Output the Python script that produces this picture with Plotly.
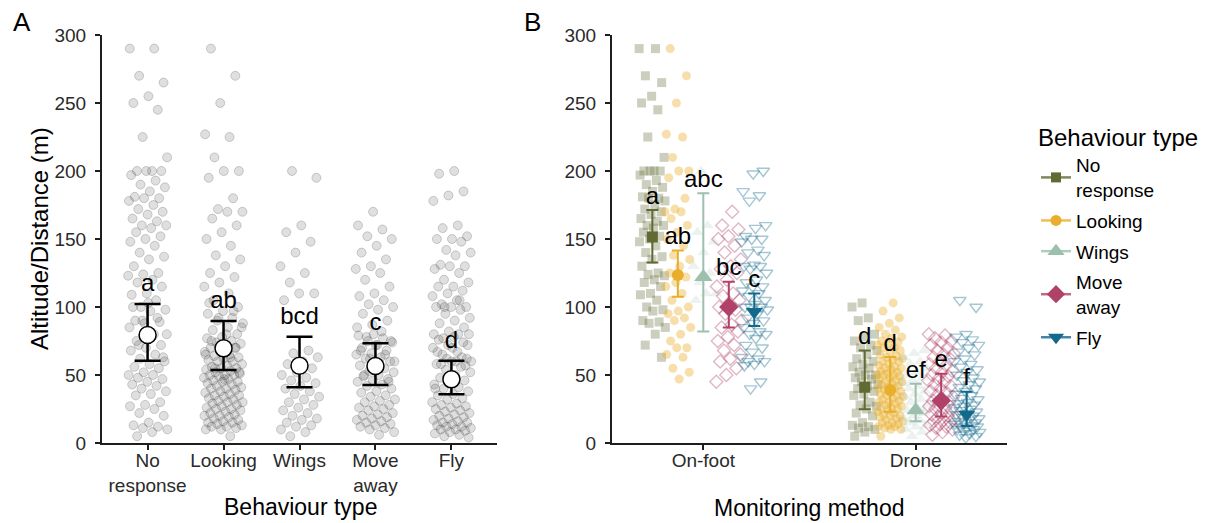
import plotly.graph_objects as go

# ---------------- data ----------------
behaviours = ["No response", "Looking", "Wings", "Move away", "Fly"]
behaviour_ticks = ["No<br>response", "Looking", "Wings", "Move<br>away", "Fly"]
legend_labels = ["No<br>response", "Looking", "Wings", "Move<br>away", "Fly"]
methods = ["On-foot", "Drone"]

onfoot_no_response = [290, 290, 270, 265, 255, 250, 245, 225, 210, 200, 200, 200, 200, 197, 193, 190,
                      188, 185, 181, 180, 180, 178, 175, 172, 170, 168, 165, 163, 160, 160, 158, 155,
                      152, 150, 148, 145, 140, 137, 135, 130, 125, 124, 123, 120, 118, 115, 110, 109,
                      105, 100, 98, 97, 90, 89, 88, 85, 80, 72, 63]
drone_no_response = [103, 100, 92, 90, 80, 78, 75, 72, 70, 68, 65, 62, 60, 58, 56, 55, 52, 50, 50, 48,
                     47, 45, 43, 42, 40, 38, 36, 35, 30, 28, 27, 25, 22, 20, 15, 13, 12, 11, 10, 8, 5]
onfoot_looking = [290, 270, 250, 227, 225, 210, 200, 200, 195, 180, 172, 170, 170, 165, 160, 155, 150,
                  145, 138, 135, 130, 125, 122, 118, 115, 110, 105, 100, 97, 95, 92, 90, 85, 80, 75,
                  70, 70, 65, 63, 55, 52, 47]
drone_looking = [103, 97, 92, 88, 85, 83, 80, 78, 77, 75, 74, 73, 72, 70, 70, 68, 67, 65, 64, 63, 62,
                 61, 60, 60, 58, 57, 56, 55, 55, 54, 53, 52, 51, 50, 50, 50, 49, 48, 47, 46, 45, 45,
                 44, 43, 42, 41, 40, 40, 39, 38, 37, 36, 35, 35, 34, 33, 32, 31, 30, 30, 29, 28, 27,
                 26, 25, 25, 24, 23, 22, 21, 20, 20, 19, 18, 17, 16, 15, 15, 14, 13, 12, 12, 11, 10,
                 10, 5]
onfoot_wings = [200, 195, 160, 155, 148, 140, 130, 125, 118, 110, 110, 105]
drone_wings = [68, 66, 63, 60, 58, 55, 52, 50, 48, 46, 44, 42, 40, 38, 36, 34, 32, 30, 28, 26, 24, 22,
               20, 18, 17, 15, 13, 12, 10, 8, 5]
onfoot_move_away = [170, 160, 157, 152, 150, 145, 140, 135, 130, 128, 125, 120, 115, 110, 108, 105, 102,
                    100, 98, 95, 90, 87, 85, 82, 78, 75, 72, 68, 65, 62, 60, 55, 50, 45]
drone_move_away = [80, 79, 77, 75, 74, 72, 70, 68, 66, 65, 63, 62, 60, 58, 57, 55, 53, 52, 50, 49, 47,
                   46, 45, 43, 42, 40, 38, 37, 35, 34, 32, 31, 30, 28, 27, 26, 25, 24, 22, 21, 20, 19,
                   18, 17, 16, 15, 14, 13, 12, 11, 10, 8, 6]
onfoot_fly = [200, 198, 185, 182, 178, 160, 158, 152, 150, 150, 148, 142, 140, 138, 131, 130, 130, 128,
              125, 120, 118, 115, 115, 112, 110, 108, 105, 102, 100, 100, 100, 98, 95, 92, 90, 88, 85,
              82, 80, 80, 77, 72, 70, 67, 63, 62, 60, 60, 58, 57, 45, 40]
drone_fly = [105, 100, 80, 78, 76, 74, 72, 70, 67, 65, 62, 60, 58, 56, 54, 52, 50, 48, 46, 45, 43, 41,
             40, 38, 36, 35, 33, 32, 30, 29, 28, 27, 26, 25, 24, 23, 22, 21, 20, 19, 18, 17, 16, 15,
             15, 14, 13, 12, 12, 11, 10, 10, 9, 8, 7, 6, 5, 4]

onfoot_points = [onfoot_no_response, onfoot_looking, onfoot_wings, onfoot_move_away, onfoot_fly]
drone_points = [drone_no_response, drone_looking, drone_wings, drone_move_away, drone_fly]

# Panel A model estimates
a_mean = [79.4, 69.6, 56.8, 56.6, 46.8]
a_lower = [60.5, 53.7, 41.0, 42.6, 35.8]
a_upper = [102.2, 89.7, 78.2, 73.3, 60.5]
a_letters = ["a", "ab", "bcd", "c", "d"]

# Panel B model estimates
onfoot_mean = [151.5, 123.5, 122.0, 100.0, 96.5]
onfoot_lower = [132.7, 107.6, 82.0, 85.0, 86.0]
onfoot_upper = [171.3, 141.6, 183.6, 118.6, 110.0]
onfoot_letters = ["a", "ab", "abc", "bc", "c"]
drone_mean = [41.0, 39.0, 24.0, 31.0, 21.0]
drone_lower = [24.8, 23.0, 16.0, 19.5, 12.5]
drone_upper = [68.0, 63.3, 43.5, 51.0, 37.7]
drone_letters = ["d", "d", "ef", "e", "f"]

# ---------------- style ----------------
colors = ["#5f6b32", "#e8ae2c", "#9dbfae", "#b0426a", "#13698c"]
rgb = [(95, 107, 50), (232, 174, 44), (157, 191, 174), (176, 66, 106), (19, 105, 140)]
point_symbols = ["square", "circle", "triangle-up", "diamond-open", "triangle-down-open"]
point_alpha = [0.32, 0.4, 0.2, 0.38, 0.38]
point_sizes = [9, 9, 11, 10, 11]
mean_symbols = ["square", "circle", "triangle-up", "diamond", "triangle-down"]
mean_sizes = [11, 12, 16, 15, 15]
dodge = [-0.24, -0.12, 0.0, 0.12, 0.24]
FONT = "Arial, Liberation Sans, sans-serif"
INK = "#1e1e1e"


def jitter(n, width, phase):
    return [(((i * 0.6180339887 + phase) % 1.0) * 2 - 1) * width for i in range(n)]


fig = go.Figure()

# ---------- Panel A ----------
for k, name in enumerate(behaviours):
    vals = onfoot_points[k] + drone_points[k]
    xs = [k + 1 + j for j in jitter(len(vals), 0.26, 0.13 * k + 0.05)]
    fig.add_trace(go.Scatter(
        x=xs, y=vals, mode="markers", xaxis="x", yaxis="y", showlegend=False,
        marker=dict(symbol="circle", size=9, color="rgba(55,55,55,0.16)",
                    line=dict(color="rgba(55,55,55,0.22)", width=1)),
        hoverinfo="skip"))

fig.add_trace(go.Scatter(
    x=[k + 1 for k in range(5)], y=a_mean, mode="markers", xaxis="x", yaxis="y", showlegend=False,
    marker=dict(symbol="circle", size=17, color="white", line=dict(color="black", width=1.5)),
    error_y=dict(type="data", symmetric=False,
                 array=[u - m for u, m in zip(a_upper, a_mean)],
                 arrayminus=[m - l for m, l in zip(a_mean, a_lower)],
                 color="black", thickness=2.5, width=13)))

fig.add_trace(go.Scatter(
    x=[k + 1 for k in range(5)], y=[u + 14 for u in a_upper], mode="text", text=a_letters,
    textposition="middle center", xaxis="x", yaxis="y", showlegend=False,
    textfont=dict(family=FONT, size=24, color="black")))

# ---------- Panel B points ----------
for m, pts in enumerate([onfoot_points, drone_points]):
    for k in range(5):
        vals = pts[k]
        xs = [m + 1 + dodge[k] + j for j in jitter(len(vals), 0.062, 0.21 * k + 0.4 * m)]
        r, g, b = rgb[k]
        col = f"rgba({r},{g},{b},{point_alpha[k]})"
        open_sym = point_symbols[k].endswith("open")
        fig.add_trace(go.Scatter(
            x=xs, y=vals, mode="markers", xaxis="x2", yaxis="y2", showlegend=False,
            marker=dict(symbol=point_symbols[k], size=point_sizes[k], color=col,
                        line=dict(color=col, width=1.4 if open_sym else 0)),
            hoverinfo="skip"))

# ---------- Panel B means ----------
for m, (means, lows, ups, lets) in enumerate([(onfoot_mean, onfoot_lower, onfoot_upper, onfoot_letters),
                                              (drone_mean, drone_lower, drone_upper, drone_letters)]):
    for k in range(5):
        x0 = m + 1 + dodge[k]
        fig.add_trace(go.Scatter(
            x=[x0], y=[means[k]], mode="markers", xaxis="x2", yaxis="y2", showlegend=False,
            marker=dict(symbol=mean_symbols[k], size=mean_sizes[k], color=colors[k],
                        line=dict(width=0)),
            error_y=dict(type="data", symmetric=False, array=[ups[k] - means[k]],
                         arrayminus=[means[k] - lows[k]], color=colors[k], thickness=2, width=6)))
    fig.add_trace(go.Scatter(
        x=[m + 1 + d for d in dodge], y=[u + 9 for u in ups], mode="text", text=lets,
        textposition="middle center", xaxis="x2", yaxis="y2", showlegend=False,
        textfont=dict(family=FONT, size=24, color="black")))

# ---------- legend ----------
for k in range(5):
    r, g, b = rgb[k]
    fig.add_trace(go.Scatter(
        x=[None], y=[None], mode="lines+markers", name=legend_labels[k], xaxis="x2", yaxis="y2",
        legendgroup=f"g{k}",
        line=dict(color=f"rgba({r},{g},{b},0.8)", width=2.5),
        marker=dict(symbol=mean_symbols[k], size=mean_sizes[k] - 1, color=colors[k])))

axis_common = dict(showline=True, linecolor=INK, linewidth=2, ticks="outside", ticklen=5,
                   tickwidth=1.5, tickcolor=INK, showgrid=False, zeroline=False, automargin=False,
                   tickfont=dict(family=FONT, size=19, color="#2a2a2a"))
ydom = [80 / 523, 1 - 35 / 523]

fig.update_layout(
    width=1216, height=523,
    margin=dict(l=0, r=0, t=0, b=0, autoexpand=False),
    paper_bgcolor="white", plot_bgcolor="white",
    font=dict(family=FONT, color="black"),
    xaxis=dict(domain=[102 / 1216, 497 / 1216], range=[0.4, 5.6], tickvals=[1, 2, 3, 4, 5],
               ticktext=behaviour_ticks, ticklabelstandoff=-6, **axis_common),
    yaxis=dict(domain=ydom, range=[0, 300], tickvals=[0, 50, 100, 150, 200, 250, 300],
               anchor="x", ticklabelstandoff=5, **axis_common),
    xaxis2=dict(domain=[612 / 1216, 1007 / 1216], range=[0.57, 2.43], tickvals=[1, 2],
                ticktext=methods, anchor="y2", ticklabelstandoff=-6, **axis_common),
    yaxis2=dict(domain=ydom, range=[0, 300], tickvals=[0, 50, 100, 150, 200, 250, 300],
                anchor="x2", ticklabelstandoff=5, **axis_common),
    legend=dict(x=1036 / 1216, y=1 - 115 / 523, xanchor="left", yanchor="top",
                title=dict(text="Behaviour type", font=dict(family=FONT, size=24, color="black")),
                font=dict(family=FONT, size=19, color="black"), tracegroupgap=3,
                bgcolor="rgba(0,0,0,0)"),
    annotations=[
        dict(text="A", x=22 / 1216, y=1 - 22 / 523, xref="paper", yref="paper", showarrow=False,
             xanchor="center", yanchor="middle", font=dict(family=FONT, size=26, color="black")),
        dict(text="B", x=532 / 1216, y=1 - 22 / 523, xref="paper", yref="paper", showarrow=False,
             xanchor="center", yanchor="middle", font=dict(family=FONT, size=26, color="black")),
        dict(text="Altitude/Distance (m)", x=40 / 1216, y=1 - 239 / 523, xref="paper", yref="paper",
             showarrow=False, textangle=-90, xanchor="center", yanchor="middle",
             font=dict(family=FONT, size=24, color="black")),
        dict(text="Behaviour type", x=300 / 1216, y=1 - 507 / 523, xref="paper", yref="paper",
             showarrow=False, xanchor="center", yanchor="middle",
             font=dict(family=FONT, size=23, color="black")),
        dict(text="Monitoring method", x=809 / 1216, y=1 - 508 / 523, xref="paper", yref="paper",
             showarrow=False, xanchor="center", yanchor="middle",
             font=dict(family=FONT, size=23, color="black")),
    ],
)

fig.write_html("out.html", config={"displayModeBar": False},
               post_script="document.body.style.margin='0';")
